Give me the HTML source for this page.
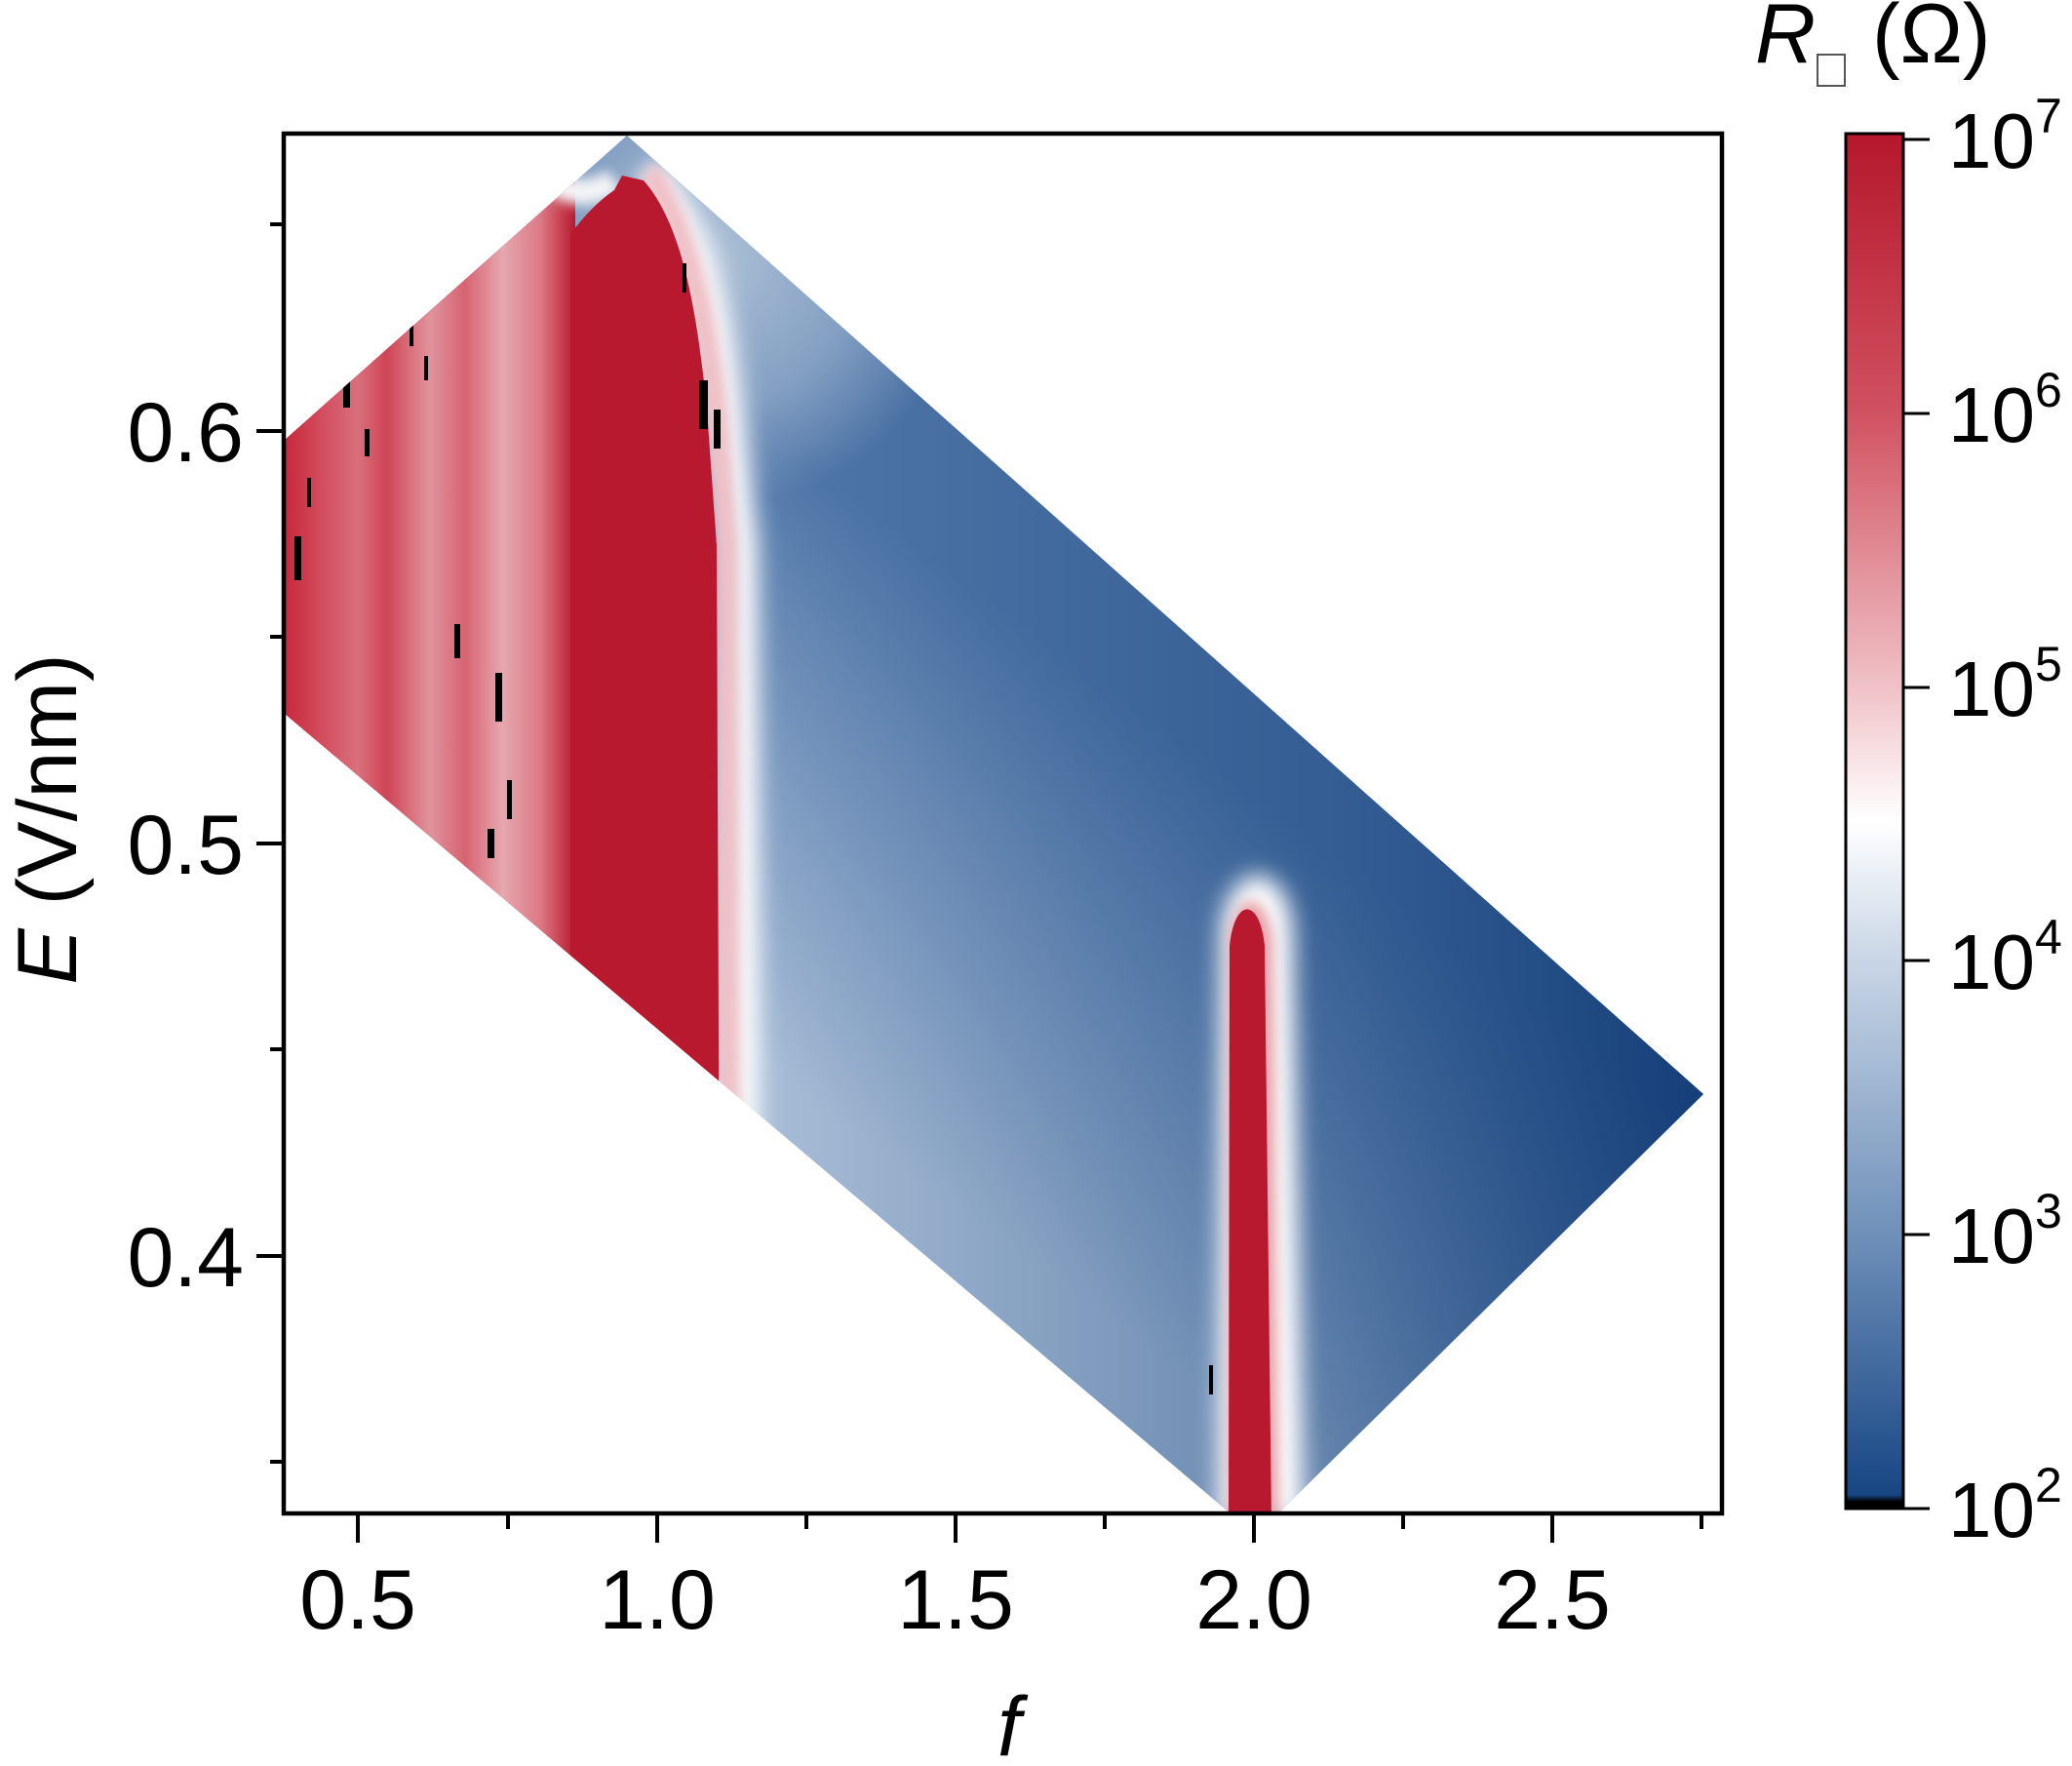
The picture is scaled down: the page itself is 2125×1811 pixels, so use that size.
<!DOCTYPE html>
<html><head><meta charset="utf-8"><style>
html,body{margin:0;padding:0;background:#fff;}
svg{display:block;}
text{font-family:"Liberation Sans",sans-serif;fill:#000;}
</style></head><body>
<svg width="2125" height="1811" viewBox="0 0 2125 1811" xmlns="http://www.w3.org/2000/svg">
<defs>
<clipPath id="shape"><polygon points="292,451 643,139 1747,1122 1310,1553 1263,1553 292,732"/></clipPath>
<filter id="b6" x="-100%" y="-100%" width="300%" height="300%"><feGaussianBlur stdDeviation="6"/></filter>
<filter id="b12" x="-100%" y="-100%" width="300%" height="300%"><feGaussianBlur stdDeviation="12"/></filter>
<linearGradient id="blue" gradientUnits="userSpaceOnUse" x1="930" y1="1200" x2="1240" y2="780">
<stop offset="0" stop-color="#a6bbd5"/><stop offset="0.4" stop-color="#84a0c4"/><stop offset="1" stop-color="#4f76a8"/></linearGradient>
<linearGradient id="darkx" gradientUnits="userSpaceOnUse" x1="800" y1="0" x2="1750" y2="0">
<stop offset="0" stop-color="#123f7a" stop-opacity="0"/><stop offset="0.6" stop-color="#123f7a" stop-opacity="0.45"/><stop offset="1" stop-color="#0b3570" stop-opacity="0.85"/></linearGradient>
<radialGradient id="toplight" gradientUnits="userSpaceOnUse" cx="730" cy="260" r="260">
<stop offset="0" stop-color="#b7c8dc" stop-opacity="0.9"/><stop offset="0.6" stop-color="#b7c8dc" stop-opacity="0.5"/><stop offset="1" stop-color="#b7c8dc" stop-opacity="0"/></radialGradient>
<linearGradient id="mottle" gradientUnits="userSpaceOnUse" x1="292" y1="0" x2="590" y2="0">
<stop offset="0" stop-color="#c8283c"/><stop offset="0.12" stop-color="#d24a5b"/><stop offset="0.25" stop-color="#d9707c"/><stop offset="0.35" stop-color="#cf4556"/><stop offset="0.5" stop-color="#e0939c"/><stop offset="0.62" stop-color="#d66472"/><stop offset="0.75" stop-color="#e6a7ae"/><stop offset="0.88" stop-color="#dc7985"/><stop offset="1" stop-color="#b8192e"/></linearGradient>
<linearGradient id="cbar" x1="0" y1="0" x2="0" y2="1">
<stop offset="0" stop-color="#b5172c"/><stop offset="0.2" stop-color="#d0505f"/><stop offset="0.4" stop-color="#efc0c5"/><stop offset="0.5" stop-color="#ffffff"/><stop offset="0.6" stop-color="#c9d6e6"/><stop offset="0.8" stop-color="#6f90b9"/><stop offset="0.99" stop-color="#174684"/><stop offset="0.995" stop-color="#000"/><stop offset="1" stop-color="#000"/></linearGradient>
</defs>

<g clip-path="url(#shape)">
<rect x="280" y="130" width="1480" height="1430" fill="url(#blue)"/>
<rect x="280" y="130" width="1480" height="1430" fill="url(#darkx)"/>
<rect x="280" y="0" width="800" height="600" fill="url(#toplight)"/>
<rect x="280" y="130" width="310" height="1200" fill="url(#mottle)"/>
<path d="M550,170 Q590,215 630,185" stroke="#f4f4f6" stroke-width="26" fill="none" filter="url(#b6)"/>
<path d="M665,175 C715,230 735,330 745,420 L760,560 L762,1300" stroke="#ffffff" stroke-width="34" fill="none" filter="url(#b12)"/>
<path d="M665,175 C705,230 725,330 735,420 L745,560 L748,1300" stroke="#f0c0c6" stroke-width="22" fill="none" filter="url(#b6)"/>
<path d="M585,1300 L585,240 C600,220 615,205 630,195 L638,180 L660,185 C700,230 715,320 725,420 L735,560 L738,1300 Z" fill="#b8192e"/>
<!-- stripe -->
<path d="M1250,1560 L1252,950 C1262,880 1318,880 1326,950 L1336,1560" fill="#ffffff" filter="url(#b12)"/>
<path d="M1260,1560 L1260,965 C1266,910 1300,910 1306,965 L1312,1560 Z" fill="#e7a5ac" filter="url(#b6)"/>
<path d="M1260,1560 L1261,970 C1266,920 1292,920 1297,970 L1304,1560 Z" fill="#b8192e"/>
<g fill="#000">
<rect x="352" y="388" width="7" height="30"/><rect x="374" y="440" width="5" height="28"/>
<rect x="302" y="550" width="7" height="45"/><rect x="315" y="490" width="4" height="30"/>
<rect x="466" y="640" width="6" height="35"/><rect x="508" y="690" width="7" height="50"/>
<rect x="520" y="800" width="5" height="40"/><rect x="500" y="850" width="7" height="30"/>
<rect x="420" y="330" width="4" height="25"/><rect x="435" y="365" width="4" height="25"/>
<rect x="717" y="390" width="9" height="50"/><rect x="732" y="420" width="7" height="40"/>
<rect x="700" y="270" width="4" height="30"/><rect x="1240" y="1400" width="4" height="30"/>
</g>
</g>

<rect x="291" y="137" width="1475" height="1415" fill="none" stroke="#000" stroke-width="4.5"/>
<g stroke="#000" stroke-width="4">
<line x1="367" y1="1554" x2="367" y2="1582"/><line x1="674" y1="1554" x2="674" y2="1582"/>
<line x1="980" y1="1554" x2="980" y2="1582"/><line x1="1286" y1="1554" x2="1286" y2="1582"/>
<line x1="1592" y1="1554" x2="1592" y2="1582"/>
<line x1="521" y1="1554" x2="521" y2="1568"/><line x1="827" y1="1554" x2="827" y2="1568"/>
<line x1="1133" y1="1554" x2="1133" y2="1568"/><line x1="1439" y1="1554" x2="1439" y2="1568"/>
<line x1="1745" y1="1554" x2="1745" y2="1568"/>
<line x1="263" y1="442" x2="291" y2="442"/><line x1="263" y1="865" x2="291" y2="865"/>
<line x1="263" y1="1288" x2="291" y2="1288"/>
<line x1="277" y1="230" x2="291" y2="230"/><line x1="277" y1="653" x2="291" y2="653"/>
<line x1="277" y1="1076" x2="291" y2="1076"/><line x1="277" y1="1499" x2="291" y2="1499"/>
</g>
<g font-size="86" text-anchor="middle">
<text x="367" y="1670">0.5</text><text x="674" y="1670">1.0</text><text x="980" y="1670">1.5</text>
<text x="1286" y="1670">2.0</text><text x="1592" y="1670">2.5</text>
</g>
<g font-size="86" text-anchor="end">
<text x="250" y="473">0.6</text><text x="250" y="896">0.5</text><text x="250" y="1319">0.4</text>
</g>
<text x="1035" y="1800" font-size="86" font-style="italic" text-anchor="middle">f</text>
<text transform="translate(78,840) rotate(-90)" font-size="86" text-anchor="middle"><tspan font-style="italic">E</tspan> (V/nm)</text>

<rect x="1893" y="137" width="59" height="1410" fill="url(#cbar)" stroke="#000" stroke-width="3"/>
<g stroke="#000" stroke-width="3">
<line x1="1952" y1="143" x2="1979" y2="143"/><line x1="1952" y1="424" x2="1979" y2="424"/>
<line x1="1952" y1="705" x2="1979" y2="705"/><line x1="1952" y1="985" x2="1979" y2="985"/>
<line x1="1952" y1="1266" x2="1979" y2="1266"/><line x1="1952" y1="1547" x2="1979" y2="1547"/>
</g>
<g font-size="80">
<text x="1998" y="172">10<tspan font-size="50" dy="-36">7</tspan></text>
<text x="1998" y="453">10<tspan font-size="50" dy="-36">6</tspan></text>
<text x="1998" y="734">10<tspan font-size="50" dy="-36">5</tspan></text>
<text x="1998" y="1014">10<tspan font-size="50" dy="-36">4</tspan></text>
<text x="1998" y="1295">10<tspan font-size="50" dy="-36">3</tspan></text>
<text x="1998" y="1576">10<tspan font-size="50" dy="-36">2</tspan></text>
</g>
<text x="1800" y="64" font-size="86" font-style="italic">R</text>
<rect x="1864" y="56" width="28" height="32" fill="none" stroke="#555" stroke-width="2"/>
<text x="1920" y="64" font-size="86" font-family="Liberation Serif">(Ω)</text>
</svg>
</body></html>
